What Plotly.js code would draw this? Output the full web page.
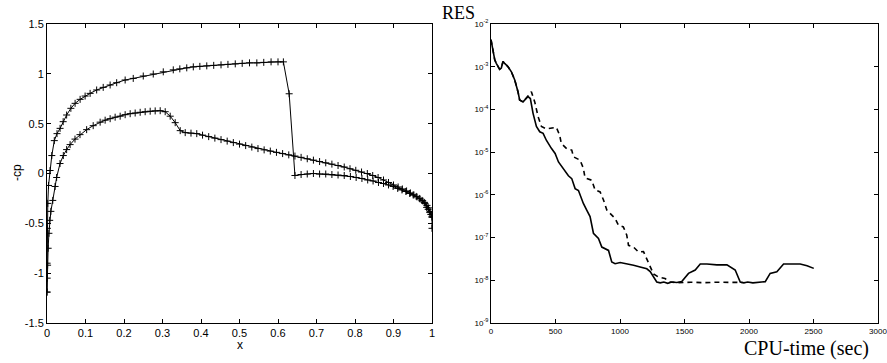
<!DOCTYPE html>
<html>
<head>
<meta charset="utf-8">
<script src="https://cdn.plot.ly/plotly-3.0.1.min.js"></script>
<style>html,body{margin:0;padding:0;background:#fff;}#chart{width:887px;height:363px;}</style>
</head>
<body>
<div id="chart"></div>
<script>
// ---- Left panel: -cp vs x ----
var upperX = [0, 0.0003, 0.001, 0.002, 0.004, 0.008, 0.0125, 0.019, 0.026, 0.034, 0.042, 0.051, 0.062, 0.073, 0.086, 0.099, 0.112, 0.129, 0.146, 0.164, 0.181, 0.203, 0.224, 0.25, 0.276, 0.302, 0.328, 0.345, 0.363, 0.38, 0.397, 0.415, 0.433, 0.452, 0.47, 0.489, 0.507, 0.526, 0.545, 0.563, 0.582, 0.6, 0.614, 0.629, 0.644, 0.66, 0.676, 0.692, 0.708, 0.724, 0.74, 0.756, 0.772, 0.788, 0.803, 0.818, 0.833, 0.847, 0.861, 0.874, 0.887, 0.899, 0.911, 0.922, 0.932, 0.942, 0.951, 0.959, 0.967, 0.974, 0.98, 0.986, 0.99, 0.994, 0.997, 1.0];
var upperCp = [-1.19, -0.9, -0.55, -0.3, -0.12, 0.03, 0.18, 0.33, 0.4, 0.453, 0.52, 0.587, 0.654, 0.704, 0.744, 0.777, 0.804, 0.838, 0.864, 0.888, 0.911, 0.938, 0.954, 0.978, 0.998, 1.02, 1.04, 1.05, 1.06, 1.07, 1.075, 1.08, 1.085, 1.09, 1.095, 1.1, 1.105, 1.11, 1.11, 1.115, 1.12, 1.12, 1.12, 0.8, -0.02, -0.01, -0.005, 0.0, -0.005, -0.005, -0.01, -0.015, -0.02, -0.03, -0.04, -0.05, -0.065, -0.075, -0.09, -0.1, -0.115, -0.13, -0.15, -0.165, -0.18, -0.2, -0.215, -0.23, -0.25, -0.27, -0.29, -0.34, -0.36, -0.39, -0.41, -0.43];

var lowerX = [0, 0.0005, 0.0015, 0.003, 0.005, 0.007, 0.01, 0.015, 0.021, 0.025, 0.0338, 0.0424, 0.051, 0.06, 0.0727, 0.0857, 0.103, 0.12, 0.138, 0.151, 0.164, 0.177, 0.19, 0.203, 0.216, 0.229, 0.242, 0.255, 0.268, 0.281, 0.294, 0.307, 0.32, 0.333, 0.346, 0.359, 0.374, 0.389, 0.404, 0.42, 0.436, 0.452, 0.468, 0.484, 0.5, 0.516, 0.532, 0.548, 0.564, 0.58, 0.596, 0.612, 0.628, 0.644, 0.66, 0.676, 0.692, 0.708, 0.724, 0.74, 0.756, 0.772, 0.787, 0.802, 0.817, 0.832, 0.846, 0.86, 0.874, 0.887, 0.9, 0.912, 0.923, 0.934, 0.944, 0.953, 0.961, 0.969, 0.976, 0.982, 0.987, 0.991, 0.995, 0.998, 1.0, 1.0];
var lowerCp = [-1.19, -1.05, -0.92, -0.75, -0.6, -0.47, -0.38, -0.27, -0.13, -0.04, 0.1, 0.18, 0.24, 0.29, 0.345, 0.39, 0.44, 0.48, 0.515, 0.535, 0.55, 0.565, 0.575, 0.59, 0.6, 0.607, 0.614, 0.62, 0.625, 0.628, 0.63, 0.62, 0.575, 0.51, 0.43, 0.41, 0.405, 0.4, 0.385, 0.37, 0.355, 0.34, 0.325, 0.31, 0.295, 0.28, 0.265, 0.25, 0.237, 0.225, 0.212, 0.2, 0.187, 0.175, 0.162, 0.148, 0.134, 0.12, 0.107, 0.094, 0.08, 0.065, 0.048, 0.032, 0.015, 0.0, -0.02, -0.04, -0.065, -0.09, -0.115, -0.135, -0.155, -0.175, -0.195, -0.215, -0.235, -0.255, -0.275, -0.3, -0.32, -0.345, -0.38, -0.41, -0.44, -0.55];

var leftYTicks = [-1.5, -1, -0.5, 0, 0.5, 1, 1.5];
var leftYLabels = ['-1.5', '-1', '-0.5', '0', '0.5', '1', '1.5'];
var leftXTicks = [0, 0.1, 0.2, 0.3, 0.4, 0.5, 0.6, 0.7, 0.8, 0.9, 1];
var leftXLabels = ['0', '0.1', '0.2', '0.3', '0.4', '0.5', '0.6', '0.7', '0.8', '0.9', '1'];

// ---- Right panel: residual vs CPU time ----
var solidT = [0, 18, 29, 41, 67, 80, 93, 106, 132, 158, 184, 209, 222, 248, 274, 287, 305, 326, 352, 378, 404, 429, 468, 497, 523, 548, 574, 600, 626, 652, 678, 704, 716, 742, 768, 794, 833, 859, 885, 911, 936, 962, 1001, 1053, 1105, 1156, 1208, 1234, 1260, 1285, 1312, 1340, 1370, 1400, 1441, 1479, 1531, 1583, 1622, 1674, 1751, 1829, 1893, 1932, 1960, 1990, 2030, 2070, 2126, 2164, 2216, 2268, 2346, 2397, 2450, 2502];
var solidR = [4.3e-3, 2.2e-3, 1.45e-3, 1.2e-3, 8.7e-4, 9.3e-4, 1.32e-3, 1.2e-3, 1.0e-3, 7.6e-4, 4.9e-4, 2.6e-4, 1.66e-4, 1.5e-4, 1.8e-4, 2.0e-4, 1.8e-4, 8.1e-5, 4.0e-5, 3.0e-5, 2.75e-5, 1.9e-5, 1.23e-5, 9.3e-6, 5.9e-6, 4.6e-6, 3.8e-6, 2.8e-6, 2.4e-6, 1.4e-6, 1.26e-6, 7.6e-7, 6.3e-7, 4.4e-7, 3.1e-7, 1.26e-7, 9.5e-8, 6.0e-8, 5.5e-8, 5.0e-8, 2.7e-8, 2.45e-8, 2.6e-8, 2.45e-8, 2.24e-8, 2.04e-8, 1.86e-8, 1.6e-8, 1.2e-8, 9.1e-9, 8.7e-9, 9.1e-9, 8.5e-9, 9.1e-9, 8.9e-9, 9.3e-9, 1.45e-8, 1.74e-8, 2.4e-8, 2.4e-8, 2.3e-8, 2.3e-8, 1.74e-8, 9.1e-9, 8.7e-9, 9.1e-9, 8.7e-9, 9.1e-9, 9.3e-9, 1.45e-8, 1.58e-8, 2.4e-8, 2.4e-8, 2.4e-8, 2.2e-8, 1.9e-8];

var dashT = [0, 18, 29, 41, 67, 80, 93, 106, 132, 158, 184, 209, 222, 248, 274, 295, 313, 339, 365, 391, 429, 481, 507, 532, 545, 587, 626, 639, 690, 716, 729, 781, 807, 846, 872, 898, 936, 962, 988, 1026, 1052, 1066, 1105, 1143, 1182, 1208, 1234, 1260, 1297, 1349, 1389, 1450, 1550, 1650, 1750, 1850, 1950];
var dashR = [4.3e-3, 2.2e-3, 1.45e-3, 1.2e-3, 8.7e-4, 9.3e-4, 1.32e-3, 1.2e-3, 1.0e-3, 7.6e-4, 4.9e-4, 2.6e-4, 1.66e-4, 1.5e-4, 1.8e-4, 2.2e-4, 2.6e-4, 1.5e-4, 6.8e-5, 4.0e-5, 3.5e-5, 3.8e-5, 3.8e-5, 2.5e-5, 1.6e-5, 1.2e-5, 1.12e-5, 7.8e-6, 6.5e-6, 4.2e-6, 2.5e-6, 2.2e-6, 1.3e-6, 1.17e-6, 7.6e-7, 4.4e-7, 3.4e-7, 2.8e-7, 1.95e-7, 1.78e-7, 1.15e-7, 6.6e-8, 6.0e-8, 4.6e-8, 4.7e-8, 3.2e-8, 2.04e-8, 1.4e-8, 1.2e-8, 1.1e-8, 9.1e-9, 8.8e-9, 9.0e-9, 8.8e-9, 9.0e-9, 8.8e-9, 8.9e-9];

var rightYTicks = [1e-9, 1e-8, 1e-7, 1e-6, 1e-5, 1e-4, 1e-3, 1e-2];
var rightYLabels = ['10<sup>-9</sup>', '10<sup>-8</sup>', '10<sup>-7</sup>', '10<sup>-6</sup>', '10<sup>-5</sup>', '10<sup>-4</sup>', '10<sup>-3</sup>', '10<sup>-2</sup>'];
var rightXTicks = [0, 500, 1000, 1500, 2000, 2500, 3000];
var rightXLabels = ['0', '500', '1000', '1500', '2000', '2500', '3000'];

var sans = 'Liberation Sans, Arial, sans-serif';
var serif = 'Liberation Serif, Times New Roman, serif';

var traces = [
  {x: upperX, y: upperCp, xaxis: 'x', yaxis: 'y', mode: 'lines+markers',
   line: {color: '#000', width: 1},
   marker: {symbol: 'cross-thin', size: 5, line: {color: '#000', width: 1}}},
  {x: lowerX, y: lowerCp, xaxis: 'x', yaxis: 'y', mode: 'lines+markers',
   line: {color: '#000', width: 1},
   marker: {symbol: 'cross-thin', size: 5, line: {color: '#000', width: 1}}},
  {x: dashT, y: dashR, xaxis: 'x2', yaxis: 'y2', mode: 'lines',
   line: {color: '#000', width: 1.6, dash: '5px,4px'}},
  {x: solidT, y: solidR, xaxis: 'x2', yaxis: 'y2', mode: 'lines',
   line: {color: '#000', width: 1.6}}
];

var axisCommon = {showline: true, linecolor: '#000', linewidth: 1, mirror: 'ticks',
  ticks: 'inside', ticklen: 4, tickcolor: '#000', showgrid: false, zeroline: false,
  automargin: false, ticklabeloverflow: 'allow'};

var layout = {
  width: 887, height: 363,
  margin: {l: 0, r: 0, t: 0, b: 0},
  paper_bgcolor: '#fff', plot_bgcolor: '#fff',
  showlegend: false,
  font: {family: sans, color: '#000'},
  xaxis: Object.assign({}, axisCommon, {domain: [47/887, 432/887], range: [0, 1],
    tickvals: leftXTicks, ticktext: leftXLabels, tickfont: {size: 11, family: sans}, anchor: 'y'}),
  yaxis: Object.assign({}, axisCommon, {domain: [1 - 323/363, 1 - 24/363], range: [-1.5, 1.5],
    tickvals: leftYTicks, ticktext: leftYLabels, tickfont: {size: 11, family: sans}, anchor: 'x'}),
  xaxis2: Object.assign({}, axisCommon, {domain: [491/887, 878/887], range: [0, 3000],
    tickvals: rightXTicks, ticktext: rightXLabels, tickfont: {size: 8, family: sans}, anchor: 'y2'}),
  yaxis2: Object.assign({}, axisCommon, {domain: [1 - 323/363, 1 - 24/363], type: 'log', range: [-9, -2],
    tickvals: rightYTicks, ticktext: rightYLabels, tickfont: {size: 8, family: sans}, anchor: 'x2'}),
  annotations: [
    {text: 'x', xref: 'paper', yref: 'paper', x: 240/887, y: 1 - 345/363, showarrow: false,
     font: {family: sans, size: 12}, xanchor: 'center', yanchor: 'middle'},
    {text: '-cp', xref: 'paper', yref: 'paper', x: 17/887, y: 1 - 173/363, showarrow: false,
     textangle: -90, font: {family: sans, size: 12}, xanchor: 'center', yanchor: 'middle'},
    {text: 'RES', xref: 'paper', yref: 'paper', x: 440/887, y: 1 - 13/363, showarrow: false,
     font: {family: serif, size: 18}, xanchor: 'left', yanchor: 'middle'},
    {text: 'CPU-time (sec)', xref: 'paper', yref: 'paper', x: 806/887, y: 1 - 348/363, showarrow: false,
     font: {family: serif, size: 20}, xanchor: 'center', yanchor: 'middle'}
  ]
};

Plotly.newPlot('chart', traces, layout, {staticPlot: true, displayModeBar: false});
</script>
</body>
</html>
